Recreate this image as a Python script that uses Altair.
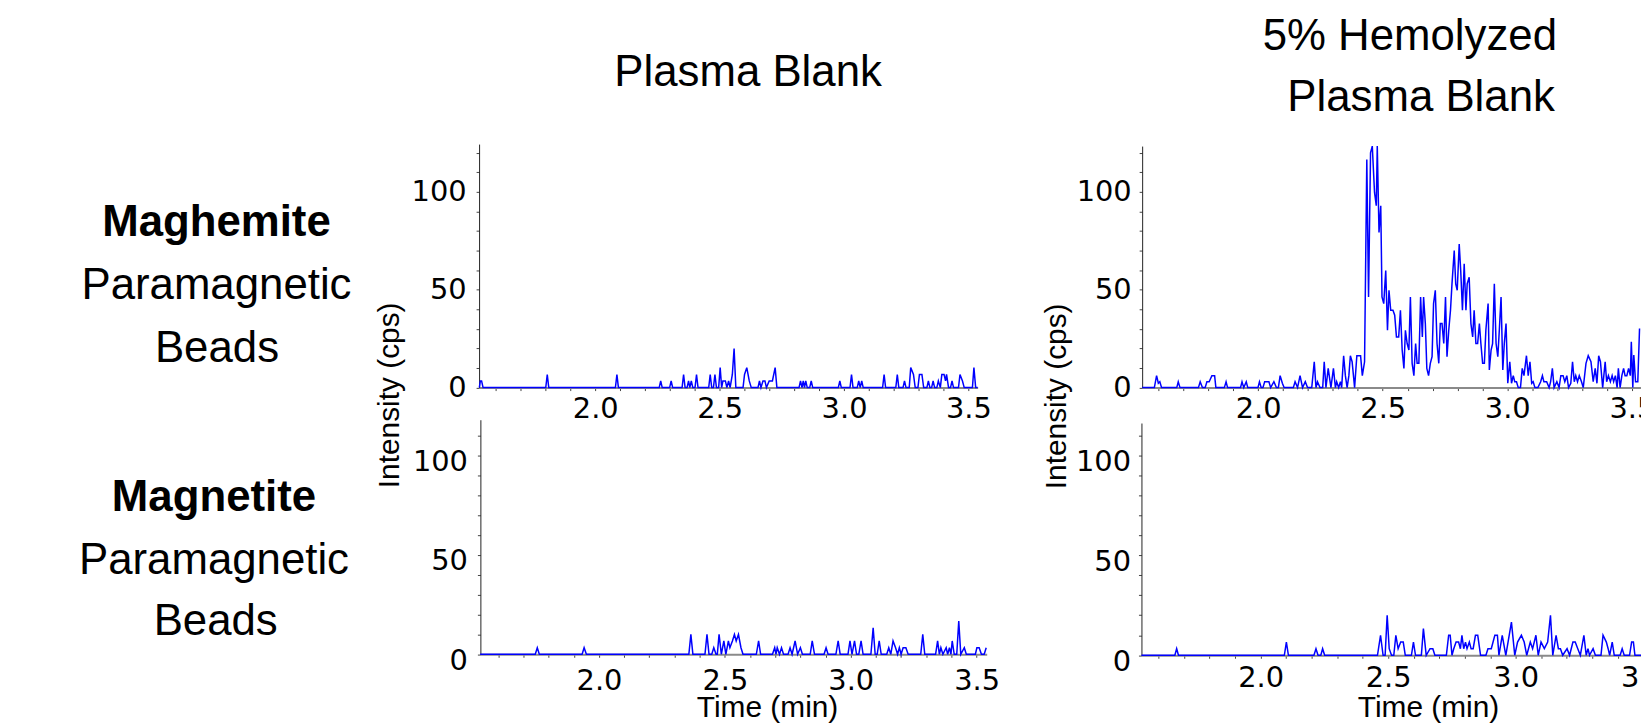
import altair as alt
import pandas as pd

# ---------------- text ----------------
COL_TITLE_LEFT = ["Plasma Blank"]
COL_TITLE_RIGHT = ["5% Hemolyzed", "Plasma Blank"]
ROW_TOP = ["Maghemite", "Paramagnetic", "Beads"]
ROW_BOTTOM = ["Magnetite", "Paramagnetic", "Beads"]
Y_TITLE = "Intensity (cps)"
X_TITLE = "Time (min)"

# ---------------- data: (time [min], intensity [cps]) ----------------
PLASMA_MAGHEMITE = [
    (1.534, 0), (1.538, 3.4), (1.543, 3.4), (1.549, 0),
    (1.801, 0), (1.807, 6.7), (1.813, 0),
    (2.081, 0), (2.087, 6.7), (2.093, 0),
    (2.257, 0), (2.263, 3.4), (2.269, 0),
    (2.299, 0), (2.305, 3.4), (2.311, 0),
    (2.349, 0), (2.355, 6.7), (2.361, 0), (2.369, 0), (2.375, 3.4), (2.380, 0),
    (2.386, 3.4), (2.392, 0), (2.401, 0), (2.407, 6.7), (2.413, 0),
    (2.456, 0), (2.462, 6.7), (2.468, 0), (2.475, 0), (2.481, 6.7), (2.487, 0),
    (2.496, 0), (2.502, 10.2), (2.508, 0), (2.513, 3.4), (2.523, 3.4), (2.529, 0),
    (2.536, 3.4), (2.542, 0), (2.551, 6.7), (2.558, 20), (2.565, 0),
    (2.594, 0), (2.600, 6.7), (2.609, 10.2), (2.619, 3.4), (2.627, 0),
    (2.654, 0), (2.660, 3.4), (2.666, 0), (2.674, 3.4), (2.682, 3.4), (2.688, 0),
    (2.699, 3.4), (2.712, 3.4), (2.723, 10.2), (2.730, 0),
    (2.819, 0), (2.825, 3.4), (2.831, 0), (2.836, 3.4), (2.841, 0), (2.846, 3.4),
    (2.852, 0), (2.862, 0), (2.868, 3.4), (2.874, 0),
    (2.977, 0), (2.983, 3.4), (2.989, 0),
    (3.024, 0), (3.030, 6.7), (3.036, 0),
    (3.053, 0), (3.059, 3.4), (3.065, 0), (3.071, 3.4), (3.077, 0),
    (3.155, 0), (3.161, 6.7), (3.167, 0),
    (3.208, 0), (3.214, 6.7), (3.220, 0),
    (3.237, 0), (3.243, 3.4), (3.249, 0),
    (3.262, 0), (3.268, 10.2), (3.279, 6.7), (3.286, 0),
    (3.297, 0), (3.303, 6.7), (3.313, 6.7), (3.320, 0),
    (3.333, 0), (3.339, 3.4), (3.345, 0),
    (3.352, 0), (3.358, 3.4), (3.364, 0),
    (3.373, 0), (3.379, 3.4), (3.387, 0), (3.393, 6.7), (3.402, 6.7), (3.408, 3.4),
    (3.412, 6.7), (3.420, 0),
    (3.428, 0), (3.434, 3.4), (3.440, 0),
    (3.460, 0), (3.466, 6.7), (3.476, 3.4), (3.483, 0),
    (3.516, 0), (3.522, 10.2), (3.529, 0), (3.537, 0),
]

PLASMA_MAGNETITE = [
    (1.528, 0), (1.747, 0), (1.755, 3.3), (1.763, 0),
    (1.933, 0), (1.941, 3.3), (1.950, 0),
    (2.357, 0), (2.365, 10), (2.373, 0),
    (2.421, 0), (2.429, 10), (2.437, 0),
    (2.448, 0), (2.456, 3.3), (2.465, 0),
    (2.470, 0), (2.477, 10), (2.486, 0), (2.496, 6.7), (2.504, 0), (2.514, 6.7),
    (2.520, 3.3), (2.530, 6.7), (2.538, 10), (2.545, 6.7), (2.554, 10), (2.564, 3.3),
    (2.572, 0),
    (2.625, 0), (2.634, 6.7), (2.642, 0),
    (2.689, 0), (2.698, 3.3), (2.703, 0), (2.708, 3.3), (2.717, 0), (2.725, 3.3),
    (2.733, 0),
    (2.751, 0), (2.759, 3.3), (2.767, 0), (2.779, 6.7), (2.789, 0), (2.800, 3.3),
    (2.808, 0),
    (2.839, 0), (2.847, 6.7), (2.856, 0),
    (2.894, 0), (2.902, 3.3), (2.910, 0),
    (2.941, 0), (2.950, 6.7), (2.958, 0),
    (2.989, 0), (2.997, 6.7), (3.005, 0), (3.015, 6.7), (3.023, 0),
    (3.032, 0), (3.041, 6.7), (3.049, 0),
    (3.080, 0), (3.089, 13.3), (3.097, 0),
    (3.105, 0), (3.113, 6.7), (3.121, 0),
    (3.143, 0), (3.151, 3.3), (3.159, 0), (3.168, 6.7), (3.178, 3.3), (3.186, 0),
    (3.193, 3.3), (3.200, 0), (3.208, 3.3), (3.219, 3.3), (3.228, 0),
    (3.278, 0), (3.286, 10), (3.294, 0),
    (3.337, 0), (3.345, 6.7), (3.352, 0), (3.358, 3.3), (3.366, 0), (3.379, 3.3),
    (3.385, 0), (3.392, 3.3), (3.398, 0), (3.403, 6.7), (3.411, 0),
    (3.421, 0), (3.429, 16.7), (3.437, 0), (3.451, 3.3), (3.459, 0),
    (3.495, 0), (3.501, 3.3), (3.510, 3.3), (3.519, 0),
    (3.530, 0), (3.538, 3.3),
]

HEMO_MAGHEMITE = [
    (1.534, 0), (1.583, 0), (1.592, 6.1), (1.599, 2.2), (1.605, 3), (1.612, 0),
    (1.673, 0), (1.679, 3), (1.686, 0),
    (1.760, 0), (1.767, 3), (1.776, 0), (1.787, 0), (1.794, 3), (1.803, 3),
    (1.814, 6.1), (1.825, 6.1), (1.830, 0),
    (1.864, 0), (1.871, 3), (1.877, 0),
    (1.929, 0), (1.935, 3), (1.942, 0), (1.952, 3), (1.958, 0),
    (1.999, 0), (2.005, 3), (2.012, 0), (2.019, 0), (2.026, 3), (2.043, 3),
    (2.050, 0), (2.063, 3), (2.073, 0), (2.081, 0), (2.088, 6.1), (2.097, 2.2),
    (2.104, 0),
    (2.141, 0), (2.148, 3), (2.158, 0), (2.168, 6.1), (2.178, 0), (2.189, 3),
    (2.198, 0), (2.215, 0), (2.225, 13.2), (2.232, 0), (2.238, 3), (2.248, 0),
    (2.259, 0), (2.265, 13.2), (2.272, 0), (2.281, 9.8), (2.292, 0), (2.302, 9.8),
    (2.310, 0), (2.315, 3), (2.323, 0), (2.330, 3), (2.335, 0), (2.343, 16.3),
    (2.350, 6.1), (2.357, 0), (2.364, 6.1), (2.370, 16.3), (2.377, 13.2),
    (2.387, 0), (2.396, 16.3), (2.411, 16.3), (2.418, 6.1), (2.427, 13.2),
    (2.436, 116.6), (2.443, 46.3), (2.451, 120), (2.458, 123.4), (2.467, 99.7),
    (2.474, 92.9), (2.478, 123.4), (2.485, 79.3), (2.492, 92.9), (2.497, 46.3),
    (2.504, 42.9), (2.512, 59.8), (2.519, 29.3), (2.525, 49.7), (2.532, 39.5),
    (2.541, 39.5), (2.548, 37), (2.555, 25.9), (2.564, 25.9), (2.571, 39.5),
    (2.578, 19.2), (2.585, 9.8), (2.591, 29.3), (2.598, 22.5), (2.605, 19.2),
    (2.611, 46.3), (2.618, 12.4), (2.625, 6.1), (2.632, 22.5), (2.638, 12.4),
    (2.645, 12.4), (2.652, 46.3), (2.659, 25.9), (2.664, 46.3), (2.671, 32.7),
    (2.677, 9.8), (2.684, 6.1), (2.691, 12.4), (2.698, 15.8), (2.704, 42.9),
    (2.711, 49.7), (2.718, 22.5), (2.725, 12.4), (2.731, 32.7), (2.738, 32.7),
    (2.745, 22.5), (2.752, 46.3), (2.758, 15.8), (2.765, 29.3), (2.772, 39.5),
    (2.778, 53), (2.787, 70), (2.793, 53), (2.799, 49.7), (2.807, 73.4),
    (2.813, 59.8), (2.820, 39.5), (2.827, 63.2), (2.834, 39.5), (2.839, 53),
    (2.847, 56.4), (2.854, 32.7), (2.861, 25.9), (2.867, 39.5), (2.874, 22.5),
    (2.881, 22.5), (2.888, 32.7), (2.894, 22.5), (2.901, 12.4), (2.908, 12.4),
    (2.914, 29.3), (2.923, 42.9), (2.928, 9), (2.935, 19.2), (2.941, 22.5),
    (2.948, 53), (2.955, 22.5), (2.962, 15.8), (2.968, 29.3), (2.975, 46.3),
    (2.982, 9), (2.988, 22.5), (2.995, 32.7), (3.002, 2.2), (3.010, 13.2),
    (3.017, 2.2), (3.024, 6.1), (3.030, 3), (3.037, 3), (3.044, 0), (3.053, 0),
    (3.060, 9.8), (3.067, 6.1), (3.077, 16.3), (3.084, 6.1), (3.091, 13.2),
    (3.098, 2.2), (3.104, 3), (3.111, 0), (3.123, 0), (3.134, 3), (3.141, 6.1),
    (3.147, 3), (3.158, 3), (3.168, 0), (3.174, 3), (3.181, 9.8), (3.188, 0),
    (3.199, 3), (3.208, 0), (3.215, 6.1), (3.224, 6.1), (3.231, 3), (3.239, 6.1),
    (3.246, 0), (3.255, 2.2), (3.262, 13.2), (3.269, 3), (3.275, 6.1), (3.282, 3),
    (3.289, 6.1), (3.298, 3), (3.305, 0), (3.316, 12.4), (3.325, 16.3),
    (3.336, 13.2), (3.345, 3), (3.353, 9.8), (3.360, 2.2), (3.367, 16.3),
    (3.374, 13.2), (3.383, 0), (3.393, 13.2), (3.399, 3), (3.406, 6.1), (3.414, 3),
    (3.421, 6.1), (3.427, 3), (3.434, 6.1), (3.441, 0), (3.446, 9.8), (3.453, 0),
    (3.460, 6.1), (3.467, 9.8), (3.473, 6.1), (3.480, 6.1), (3.487, 9.8),
    (3.494, 6.1), (3.498, 23.4), (3.504, 0), (3.508, 16.6), (3.515, 3), (3.524, 3),
    (3.531, 30.2),
]

HEMO_MAGNETITE = [
    (1.533, 0), (1.664, 0), (1.671, 3.3), (1.678, 0),
    (2.093, 0), (2.101, 6.6), (2.109, 0),
    (2.209, 0), (2.217, 3.3), (2.225, 0), (2.236, 0), (2.243, 3.3), (2.251, 0),
    (2.458, 0), (2.470, 10), (2.480, 0), (2.488, 0), (2.496, 20), (2.504, 3.3),
    (2.513, 0), (2.522, 0), (2.530, 10), (2.539, 3.3), (2.549, 6.6), (2.559, 6.6),
    (2.567, 0),
    (2.591, 0), (2.599, 6.6), (2.607, 0),
    (2.630, 0), (2.638, 13.3), (2.649, 0), (2.664, 3.3), (2.675, 3.3), (2.683, 0),
    (2.728, 0), (2.737, 10), (2.743, 10), (2.750, 0), (2.757, 3.3), (2.766, 6.6),
    (2.776, 6.6), (2.783, 3.3), (2.789, 10), (2.796, 3.3), (2.803, 6.6),
    (2.809, 3.3), (2.818, 6.6), (2.825, 3.3), (2.833, 3.3), (2.842, 10),
    (2.851, 10), (2.862, 0),
    (2.883, 0), (2.891, 3.3), (2.904, 3.3), (2.918, 10), (2.928, 10), (2.934, 0),
    (2.947, 10), (2.961, 0), (2.983, 16.6), (2.996, 0), (3.007, 6.6), (3.022, 10),
    (3.033, 6.6), (3.043, 0), (3.057, 6.6), (3.066, 3.3), (3.079, 10), (3.088, 0),
    (3.099, 6.6), (3.112, 3.3), (3.125, 6.6), (3.136, 20), (3.145, 0), (3.158, 10),
    (3.167, 3.3), (3.175, 3.3), (3.184, 0), (3.201, 3.3), (3.211, 0), (3.224, 6.6),
    (3.233, 6.6), (3.243, 3.3), (3.253, 0), (3.267, 10), (3.276, 0), (3.283, 3.3),
    (3.289, 0), (3.303, 3.3), (3.312, 0),
    (3.334, 0), (3.342, 10), (3.355, 6.6), (3.362, 3.3), (3.368, 0), (3.378, 6.6),
    (3.386, 0),
    (3.409, 0), (3.417, 3.3), (3.425, 0),
    (3.446, 0), (3.454, 6.6), (3.461, 6.6), (3.467, 0), (3.495, 0),
]

# ---------------- layout (pixels inside the chart) ----------------
W, H = 1641, 716
TEXTFONT = "Liberation Sans"
TICKFONT = "DejaVu Sans"


def panel(rows, tdom, xr, ydom, yr, xpad, ypad, yoff, xmax):
    df = pd.DataFrame(rows, columns=["time", "intensity"])
    xticks = [round(0.1 * i, 1) for i in range(16, int(round(xmax * 10)) + 1)]
    yticks = list(range(0, 121, 10))
    x = alt.X(
        "time:Q",
        scale=alt.Scale(domain=tdom, range=xr, nice=False, zero=False),
        axis=alt.Axis(
            orient="bottom", offset=yr[0] - H, values=xticks, title=None,
            labelExpr="abs(datum.value*2 - round(datum.value*2)) < 0.01 ? format(datum.value, '.1f') : ''",
            grid=False, tickSize=3, tickColor="#444", tickWidth=1,
            domainColor="#8a8a8a", domainWidth=2,
            labelFont=TICKFONT, labelFontSize=29, labelColor="black",
            labelPadding=xpad, labelOverlap=False, labelFlush=False, labelBound=False,
        ),
    )
    y = alt.Y(
        "intensity:Q",
        scale=alt.Scale(domain=ydom, range=yr, nice=False, zero=False),
        axis=alt.Axis(
            orient="left", offset=-xr[0], values=yticks, title=None,
            labelExpr="datum.value % 50 == 0 ? format(datum.value, 'd') : ''",
            grid=False, tickSize=3, tickColor="#444", tickWidth=1,
            domainColor="#222", domainWidth=1,
            labelFont=TICKFONT, labelFontSize=29, labelColor="black",
            labelPadding=ypad, labelOffset=yoff, labelOverlap=False, labelBound=False,
        ),
    )
    return alt.Chart(df).mark_line(color="#0000ff", strokeWidth=1.5).encode(x=x, y=y)


def label(text, x, y, size, weight="normal", angle=0, baseline="alphabetic"):
    return (
        alt.Chart(pd.DataFrame({"t": [text]}))
        .mark_text(font=TEXTFONT, fontSize=size, fontWeight=weight, angle=angle,
                   align="center", baseline=baseline, color="black")
        .encode(text="t:N", x=alt.value(x), y=alt.value(y))
    )


layers = [
    panel(PLASMA_MAGHEMITE, [1.533, 3.537], [473.4, 974.4], [0, 124.4], [379.7, 135], 4, 10, 0, 3.5),
    panel(PLASMA_MAGNETITE, [1.529, 3.54], [474.7, 983.5], [0, 118], [647.7, 412], 9, 10, 6, 3.5),
    panel(HEMO_MAGHEMITE, [1.534, 3.6], [1139.7, 1656.8], [0, 123.4], [379.7, 137], 4, 8, 0, 3.6),
    panel(HEMO_MAGNETITE, [1.533, 3.6], [1139, 1669], [0, 116.1], [648.7, 415.3], 5, 8, 6, 3.6),
    # column titles
    label(COL_TITLE_LEFT[0], 743.7, 77, 44),
    label(COL_TITLE_RIGHT[0], 1408.7, 40.3, 44),
    label(COL_TITLE_RIGHT[1], 1420, 102, 44),
    # row labels
    label(ROW_TOP[0], 209.5, 227, 44, weight="bold"),
    label(ROW_TOP[1], 209.5, 290.3, 44),
    label(ROW_TOP[2], 210, 353.7, 44),
    label(ROW_BOTTOM[0], 207, 503.7, 44, weight="bold"),
    label(ROW_BOTTOM[1], 207, 567, 44),
    label(ROW_BOTTOM[2], 208.7, 628.7, 44),
    # axis titles
    label(Y_TITLE, 383.7, 387.5, 30, angle=270, baseline="middle"),
    label(Y_TITLE, 1053.7, 388.5, 30, angle=270, baseline="middle"),
    label(X_TITLE, 763.3, 711, 30),
    label(X_TITLE, 1427.5, 711, 30),
]

chart = (
    alt.layer(*layers)
    .resolve_scale(x="independent", y="independent")
    .resolve_axis(x="independent", y="independent")
    .properties(width=W, height=H, padding=0, autosize=alt.AutoSizeParams(type="none"),
                background="white")
    .configure_view(stroke="transparent")
)

chart.save("out.html", embed_options={"renderer": "svg", "actions": False})
